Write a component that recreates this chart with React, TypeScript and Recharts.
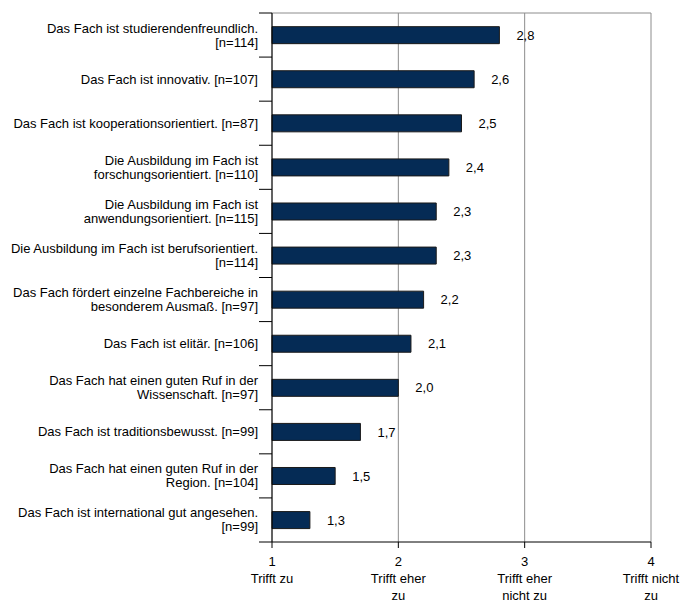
import React from "react";
import { BarChart, Bar, XAxis, YAxis, CartesianGrid, LabelList } from "recharts";

const categories = [
  "Das Fach ist studierendenfreundlich.\n[n=114]",
  "Das Fach ist innovativ. [n=107]",
  "Das Fach ist kooperationsorientiert. [n=87]",
  "Die Ausbildung im Fach ist\nforschungsorientiert. [n=110]",
  "Die Ausbildung im Fach ist\nanwendungsorientiert. [n=115]",
  "Die Ausbildung im Fach ist berufsorientiert.\n[n=114]",
  "Das Fach fördert einzelne Fachbereiche in\nbesonderem Ausmaß. [n=97]",
  "Das Fach ist elitär. [n=106]",
  "Das Fach hat einen guten Ruf in der\nWissenschaft. [n=97]",
  "Das Fach ist traditionsbewusst. [n=99]",
  "Das Fach hat einen guten Ruf in der\nRegion. [n=104]",
  "Das Fach ist international gut angesehen.\n[n=99]",
];

const values = [2.8, 2.6, 2.5, 2.4, 2.3, 2.3, 2.2, 2.1, 2.0, 1.7, 1.5, 1.3];

const xTicks = [1, 2, 3, 4];
const xTickLabels = ["Trifft zu", "Trifft eher\nzu", "Trifft eher\nnicht zu", "Trifft nicht\nzu"];

const data = categories.map((c, i) => ({ category: c, value: values[i] }));

const W = 683;
const H = 602;
const MARGIN = { top: 13, right: 32, bottom: 0, left: 0 };
const Y_AXIS_W = 272;
const X_AXIS_H = 60;
const PLOT_H = H - MARGIN.top - MARGIN.bottom - X_AXIS_H;
const BAND = PLOT_H / categories.length;
const FONT = "'Liberation Sans', Arial, Helvetica, sans-serif";
const FS = 13;

const YTick = (props: any) => {
  const { y, payload } = props;
  const idx = categories.indexOf(payload.value);
  const lines = String(payload.value).split("\n");
  const axisX = MARGIN.left + Y_AXIS_W;
  const lh = 14;
  const startDy = -((lines.length - 1) * lh) / 2;
  return (
    <g>
      <line x1={axisX - 13} x2={axisX} y1={y - BAND / 2} y2={y - BAND / 2} stroke="#000" strokeWidth={1} />
      {idx === categories.length - 1 && (
        <line x1={axisX - 13} x2={axisX} y1={y + BAND / 2} y2={y + BAND / 2} stroke="#000" strokeWidth={1} />
      )}
      <text x={axisX - 14} y={y} textAnchor="end" fontSize={FS} fontFamily={FONT} fill="#000">
        {lines.map((l, i) => (
          <tspan key={i} x={axisX - 14} dy={i === 0 ? startDy : lh} dominantBaseline="central">
            {l}
          </tspan>
        ))}
      </text>
    </g>
  );
};

const XTick = (props: any) => {
  const { x, y, payload } = props;
  const idx = xTicks.indexOf(payload.value);
  const lines = [String(payload.value), ...xTickLabels[idx].split("\n")];
  return (
    <text x={x} y={y} textAnchor="middle" fontSize={FS} fontFamily={FONT} fill="#000">
      {lines.map((l, i) => (
        <tspan key={i} x={x} dy={i === 0 ? 16 : 17}>
          {l}
        </tspan>
      ))}
    </text>
  );
};

const fmt = (v: any) => Number(v).toFixed(1).replace(".", ",");

export default function App() {
  return (
    <div style={{ position: "absolute", left: 0, top: 0, width: W, height: H, fontFamily: FONT, overflow: "hidden" }}>
      <BarChart width={W} height={H} data={data} layout="vertical" margin={MARGIN} barCategoryGap="31%">
        <CartesianGrid
          stroke="#8c8c8c"
          horizontalCoordinatesGenerator={({ offset }: any) => [offset.top]}
        />
        <XAxis
          type="number"
          domain={[1, 4]}
          ticks={xTicks}
          interval={0}
          height={X_AXIS_H}
          axisLine={{ stroke: "#000" }}
          tickLine={{ stroke: "#000" }}
          tickSize={6}
          tick={<XTick />}
        />
        <YAxis
          type="category"
          dataKey="category"
          width={Y_AXIS_W}
          axisLine={{ stroke: "#000" }}
          tickLine={false}
          interval={0}
          tick={<YTick />}
        />
        <Bar dataKey="value" fill="#052b55" stroke="#1a1a1a" strokeWidth={1} isAnimationActive={false}>
          <LabelList dataKey="value" position="right" offset={17} formatter={fmt} fontSize={FS} fontFamily={FONT} fill="#000" />
        </Bar>
      </BarChart>
    </div>
  );
}
